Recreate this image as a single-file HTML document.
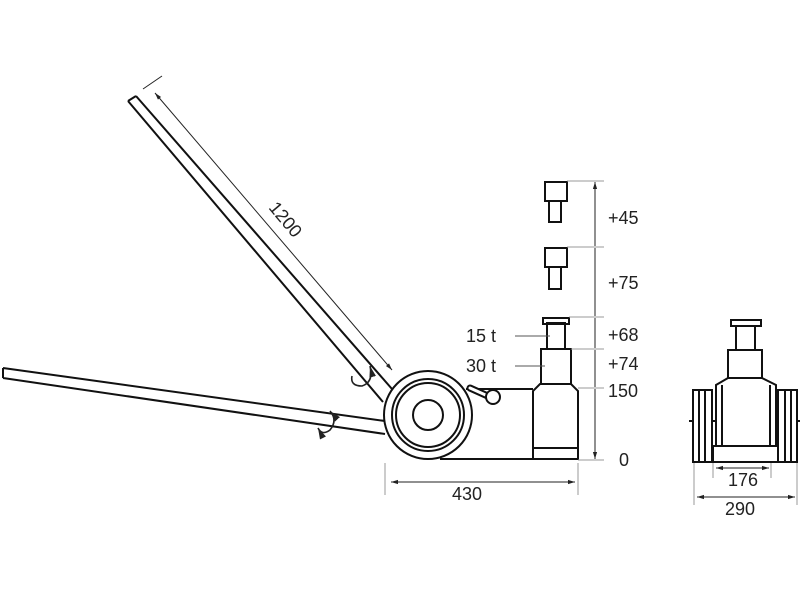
<!DOCTYPE html>
<html><head><style>body{margin:0;background:#fff}svg{display:block}text{font-family:"Liberation Sans",sans-serif;fill:#222}</style></head><body>
<svg width="800" height="600" viewBox="0 0 800 600" xmlns="http://www.w3.org/2000/svg">
<defs><marker id="a" viewBox="0 0 10 10" refX="10" refY="5" markerWidth="7" markerHeight="7" orient="auto-start-reverse"><path d="M0,2 L10,5 L0,8 z" fill="#222"/></marker></defs>
<g stroke="#111" stroke-width="2" fill="none">
<path d="M128,101 L383,402 M136,96 L392,389 M128,101 L136,96"/>
<path d="M3,368 L385,421 M3,378 L385,434 M3,368 L3,378"/>
<circle cx="428" cy="415" r="44" fill="#fff"/>
<circle cx="428" cy="415" r="36"/>
<circle cx="428" cy="415" r="32"/>
<circle cx="428" cy="415" r="15"/>
<path d="M466,389 L533,389 M440,459 L578,459"/>
<path d="M470,388 L490,397" stroke-width="7" stroke-linecap="round"/>
<path d="M470,388 L490,397" stroke="#fff" stroke-width="3" stroke-linecap="round"/>
<circle cx="493" cy="397" r="7" fill="#fff"/>
<path d="M533,459 L533,391 L540,384 L571,384 L578,391 L578,459 Z" fill="#fff"/>
<path d="M533,448 L578,448"/>
<rect x="541" y="349" width="30" height="35"/>
<rect x="547" y="323" width="18" height="26"/>
<rect x="543" y="318" width="26" height="6"/>
<rect x="545" y="182" width="22" height="19"/><rect x="549" y="201" width="12" height="21"/>
<rect x="545" y="248" width="22" height="19"/><rect x="549" y="267" width="12" height="22"/>
<rect x="731" y="320" width="30" height="6"/>
<rect x="736" y="326" width="19" height="24"/>
<rect x="728" y="350" width="34" height="28"/>
<path d="M728,378 L716,385 L716,446 L776,446 L776,385 L762,378"/>
<path d="M722,385 L722,445 M770,385 L770,445"/>
<rect x="713" y="446" width="65" height="16"/>
<rect x="693" y="390" width="19" height="72"/><path d="M699,390 V462 M705,390 V462"/>
<rect x="778" y="390" width="19" height="72"/><path d="M785,390 V462 M791,390 V462"/>
<path d="M689,421 H693 M712,421 H716 M776,421 H778 M797,421 H801"/>
</g>
<g stroke="#222" stroke-width="1" fill="none">
<path d="M155,93 L392,370" marker-start="url(#a)" marker-end="url(#a)"/>
<path d="M143,89 L162,76"/>
<path d="M567,181 H604 M567,247 H604 M569,317 H604 M571,349 H604 M578,388 H604 M578,460 H604" stroke="#999"/>
<path d="M595,182 V246 M595,248 V316 M595,318 V348 M595,350 V387 M595,389 V459" marker-start="url(#a)" marker-end="url(#a)"/>
<path d="M385,463 V495 M578,463 V495" stroke="#999"/>
<path d="M391,482 H575" marker-start="url(#a)" marker-end="url(#a)"/>
<path d="M515,336 H550 M515,366 H545" stroke="#555"/>
<path d="M713,463 V478 M771,463 V478 M694,463 V505 M797,463 V505" stroke="#999"/>
<path d="M716,468 H769" marker-start="url(#a)" marker-end="url(#a)"/>
<path d="M697,497 H795" marker-start="url(#a)" marker-end="url(#a)"/>
<path d="M352,376 Q350,386 362,386 Q374,382 370,366" stroke-width="1.6" marker-end="url(#a)"/>
<path d="M330,411 Q338,420 330,430 Q322,436 318,428" stroke-width="1.6" marker-start="url(#a)" marker-end="url(#a)"/>
</g>
<g font-size="18">
<text x="608" y="224">+45</text>
<text x="608" y="289">+75</text>
<text x="608" y="341">+68</text>
<text x="608" y="370">+74</text>
<text x="608" y="397">150</text>
<text x="619" y="466">0</text>
<text x="481" y="342" text-anchor="middle">15 t</text>
<text x="481" y="372" text-anchor="middle">30 t</text>
<text x="467" y="500" text-anchor="middle">430</text>
<text x="743" y="486" text-anchor="middle">176</text>
<text x="740" y="515" text-anchor="middle">290</text>
<text x="0" y="0" transform="translate(268,208) rotate(50)">1200</text>
</g>
</svg>
</body></html>
